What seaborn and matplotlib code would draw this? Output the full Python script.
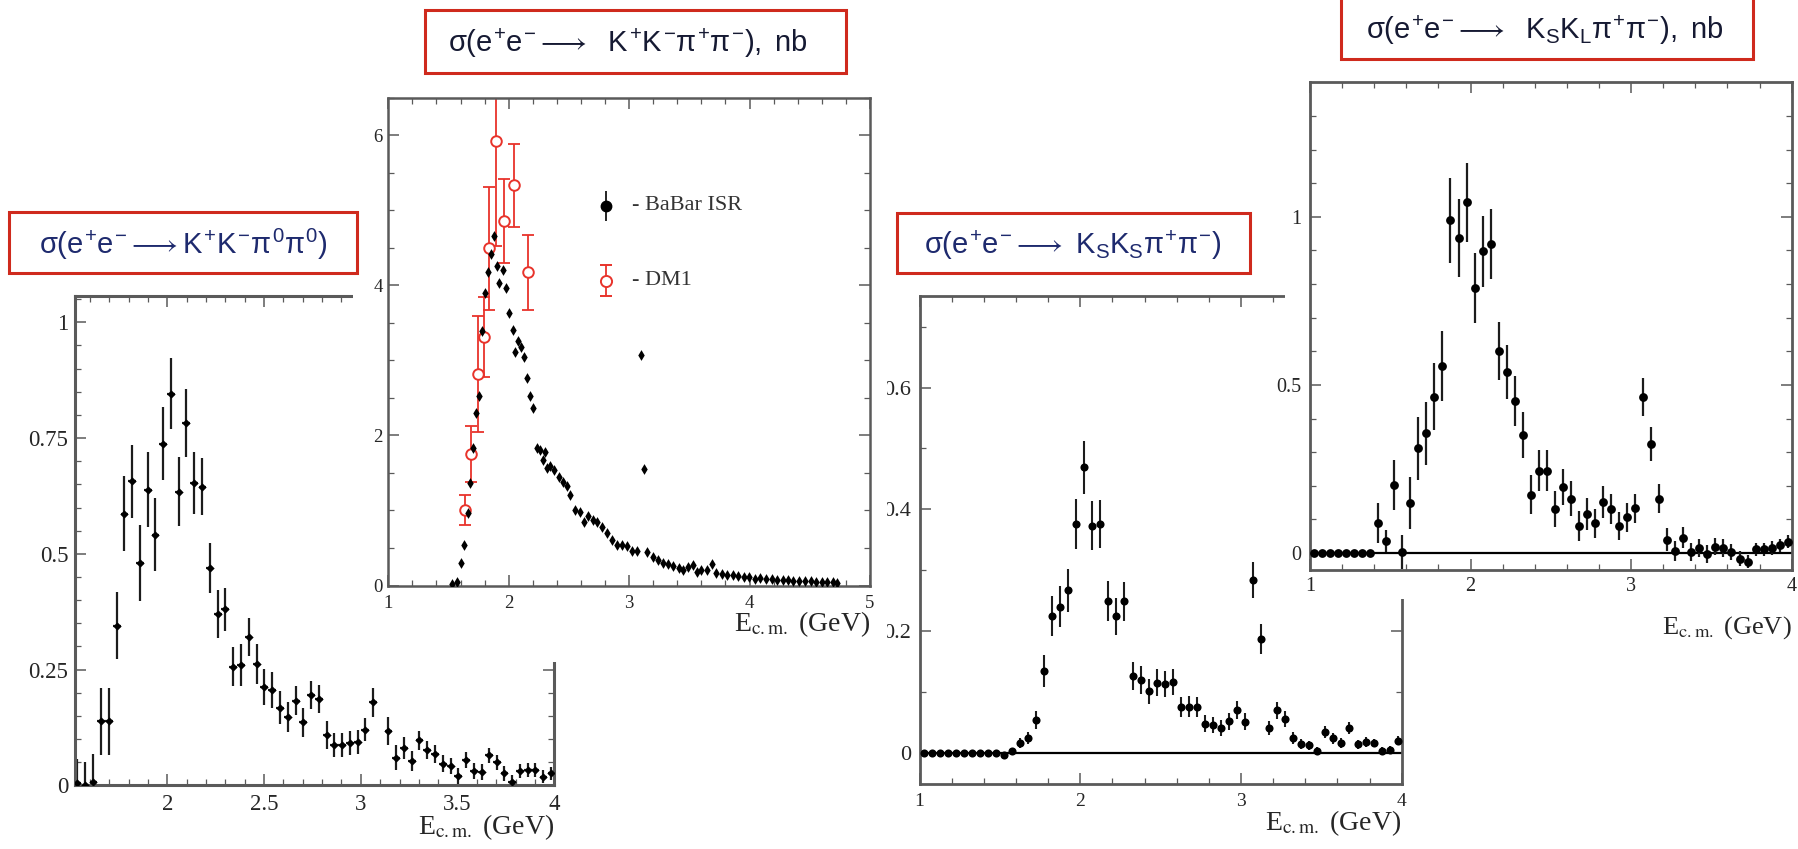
import matplotlib
matplotlib.use("Agg")
import matplotlib.pyplot as plt
import matplotlib.transforms as mtransforms
from matplotlib.patches import Rectangle
from matplotlib.ticker import FixedLocator
from matplotlib.font_manager import FontProperties
import seaborn as sns

# ---------------------------------------------------------------- data
# e+e- -> K+ K- pi0 pi0
a_e = [1.533, 1.576, 1.618, 1.657, 1.699, 1.738, 1.778, 1.819, 1.857, 1.898,
       1.938, 1.979, 2.019, 2.058, 2.098, 2.139, 2.181, 2.218, 2.260, 2.299,
       2.339, 2.380, 2.420, 2.461, 2.501, 2.542, 2.582, 2.621, 2.663, 2.702,
       2.742, 2.783, 2.823, 2.863, 2.904, 2.944, 2.983, 3.023, 3.062, 3.143,
       3.183, 3.222, 3.264, 3.303, 3.343, 3.383, 3.424, 3.464, 3.504, 3.544,
       3.584, 3.624, 3.663, 3.703, 3.742, 3.783, 3.823, 3.864, 3.902, 3.944,
       3.985]
a_sig = [0.006, 0.0, 0.008, 0.138, 0.138, 0.345, 0.587, 0.657, 0.481, 0.638,
         0.541, 0.738, 0.846, 0.634, 0.783, 0.653, 0.645, 0.470, 0.370, 0.380,
         0.256, 0.260, 0.321, 0.262, 0.212, 0.205, 0.168, 0.148, 0.183, 0.136,
         0.195, 0.187, 0.109, 0.087, 0.087, 0.091, 0.094, 0.120, 0.179, 0.118,
         0.060, 0.081, 0.052, 0.097, 0.076, 0.068, 0.047, 0.042, 0.020, 0.055,
         0.031, 0.028, 0.065, 0.050, 0.026, 0.008, 0.030, 0.033, 0.033, 0.018,
         0.026]
a_err = [0.050, 0.050, 0.060, 0.073, 0.073, 0.072, 0.082, 0.079, 0.082, 0.081,
         0.079, 0.079, 0.077, 0.075, 0.073, 0.067, 0.061, 0.054, 0.051, 0.047,
         0.042, 0.046, 0.041, 0.043, 0.039, 0.039, 0.035, 0.033, 0.031, 0.031,
         0.030, 0.030, 0.030, 0.026, 0.026, 0.026, 0.026, 0.025, 0.031, 0.030,
         0.026, 0.024, 0.022, 0.020, 0.020, 0.019, 0.019, 0.018, 0.018, 0.018,
         0.018, 0.017, 0.016, 0.016, 0.016, 0.015, 0.015, 0.015, 0.015, 0.014,
         0.014]

# e+e- -> K+ K- pi+ pi-  (BaBar ISR)
b_e = [1.527, 1.568, 1.600, 1.629, 1.660, 1.679, 1.706, 1.731, 1.753, 1.781,
       1.803, 1.831, 1.850, 1.878, 1.900, 1.922, 1.950, 1.977, 2.000, 2.033,
       2.052, 2.075, 2.100, 2.127, 2.155, 2.177, 2.205, 2.233, 2.260, 2.282,
       2.300, 2.315, 2.343, 2.376, 2.420, 2.453, 2.480, 2.510, 2.550, 2.590,
       2.625, 2.661, 2.703, 2.736, 2.772, 2.814, 2.855, 2.897, 2.940, 2.980,
       3.020, 3.063, 3.096, 3.124, 3.151, 3.200, 3.243, 3.284, 3.326, 3.367,
       3.410, 3.450, 3.490, 3.528, 3.560, 3.600, 3.645, 3.686, 3.720, 3.770,
       3.810, 3.860, 3.907, 3.954, 3.998, 4.046, 4.087, 4.137, 4.184, 4.230,
       4.276, 4.320, 4.364, 4.410, 4.460, 4.508, 4.552, 4.600, 4.646, 4.690,
       4.724]
b_sig = [0.02, 0.05, 0.30, 0.54, 0.97, 1.36, 1.83, 2.30, 2.52, 3.39,
         3.90, 4.17, 4.42, 4.65, 4.25, 4.03, 4.20, 3.96, 3.63, 3.41,
         3.11, 3.26, 3.18, 3.05, 2.76, 2.52, 2.36, 1.83, 1.80, 1.67,
         1.78, 1.56, 1.59, 1.54, 1.45, 1.38, 1.33, 1.21, 1.01, 0.98,
         0.84, 0.92, 0.87, 0.85, 0.78, 0.70, 0.61, 0.54, 0.54, 0.52,
         0.46, 0.46, 3.07, 1.55, 0.45, 0.38, 0.34, 0.30, 0.29, 0.26,
         0.23, 0.20, 0.24, 0.27, 0.18, 0.20, 0.21, 0.28, 0.17, 0.15,
         0.14, 0.14, 0.127, 0.118, 0.109, 0.087, 0.095, 0.082, 0.082, 0.073,
         0.073, 0.073, 0.064, 0.064, 0.056, 0.056, 0.050, 0.050, 0.047, 0.047,
         0.037]

# e+e- -> K+ K- pi+ pi-  (DM1)
dm_e = [1.637, 1.687, 1.742, 1.795, 1.834, 1.892, 1.963, 2.047, 2.163]
dm_sig = [1.00, 1.75, 2.82, 3.31, 4.49, 5.92, 4.86, 5.33, 4.17]
dm_err = [0.20, 0.375, 0.77, 0.53, 0.82, 1.40, 0.56, 0.55, 0.505]

# e+e- -> KS KS pi+ pi-
c_e = [1.025, 1.075, 1.125, 1.175, 1.225, 1.275, 1.325, 1.375, 1.425, 1.475,
       1.525, 1.575, 1.625, 1.675, 1.725, 1.775, 1.825, 1.875, 1.925, 1.975,
       2.025, 2.075, 2.125, 2.175, 2.225, 2.275, 2.325, 2.375, 2.425, 2.475,
       2.525, 2.575, 2.625, 2.675, 2.725, 2.775, 2.825, 2.875, 2.925, 2.975,
       3.025, 3.075, 3.125, 3.175, 3.225, 3.275, 3.325, 3.375, 3.425, 3.475,
       3.525, 3.575, 3.625, 3.675, 3.725, 3.775, 3.825, 3.875, 3.925, 3.975]
c_sig = [0, 0, 0, 0, 0, 0, 0, 0, 0, 0,
         -0.003, 0.003, 0.016, 0.024, 0.054, 0.134, 0.225, 0.240, 0.267, 0.376,
         0.469, 0.373, 0.376, 0.249, 0.224, 0.249, 0.126, 0.119, 0.101, 0.115,
         0.113, 0.116, 0.075, 0.076, 0.075, 0.048, 0.046, 0.041, 0.052, 0.070,
         0.051, 0.284, 0.187, 0.041, 0.070, 0.055, 0.024, 0.014, 0.012, 0.003,
         0.034, 0.024, 0.016, 0.041, 0.014, 0.018, 0.016, 0.003, 0.005, 0.020]
c_err = [0, 0, 0, 0, 0, 0, 0, 0, 0, 0,
         0.005, 0.005, 0.008, 0.010, 0.015, 0.026, 0.033, 0.034, 0.035, 0.041,
         0.044, 0.040, 0.040, 0.033, 0.030, 0.032, 0.023, 0.023, 0.021, 0.022,
         0.022, 0.021, 0.017, 0.017, 0.017, 0.014, 0.013, 0.013, 0.014, 0.015,
         0.014, 0.029, 0.024, 0.012, 0.014, 0.013, 0.010, 0.008, 0.008, 0.006,
         0.010, 0.009, 0.008, 0.010, 0.007, 0.008, 0.007, 0.006, 0.006, 0.008]

# e+e- -> KS KL pi+ pi-
d_e = [1.025, 1.075, 1.125, 1.175, 1.225, 1.275, 1.325, 1.375, 1.425, 1.475,
       1.525, 1.575, 1.625, 1.675, 1.725, 1.775, 1.825, 1.875, 1.925, 1.975,
       2.025, 2.075, 2.125, 2.175, 2.225, 2.275, 2.325, 2.375, 2.425, 2.475,
       2.525, 2.575, 2.625, 2.675, 2.725, 2.775, 2.825, 2.875, 2.925, 2.975,
       3.025, 3.075, 3.125, 3.175, 3.225, 3.275, 3.325, 3.375, 3.425, 3.475,
       3.525, 3.575, 3.625, 3.675, 3.725, 3.775, 3.825, 3.875, 3.925, 3.975]
d_sig = [0, 0, 0, 0, 0, 0, 0, 0, 0.089, 0.036,
         0.202, 0.003, 0.148, 0.311, 0.356, 0.465, 0.556, 0.989, 0.937, 1.043,
         0.789, 0.897, 0.920, 0.601, 0.539, 0.453, 0.350, 0.174, 0.245, 0.245,
         0.131, 0.197, 0.162, 0.080, 0.116, 0.088, 0.152, 0.131, 0.080, 0.106,
         0.133, 0.464, 0.325, 0.162, 0.040, 0.006, 0.046, 0.003, 0.015, -0.003,
         0.019, 0.015, 0.003, -0.017, -0.026, 0.011, 0.011, 0.015, 0.023, 0.034]
d_err = [0, 0, 0, 0, 0, 0, 0, 0, 0.060, 0.032,
         0.074, 0.050, 0.077, 0.093, 0.094, 0.100, 0.103, 0.125, 0.116, 0.118,
         0.104, 0.105, 0.104, 0.087, 0.081, 0.074, 0.068, 0.057, 0.060, 0.060,
         0.053, 0.054, 0.052, 0.044, 0.047, 0.043, 0.048, 0.046, 0.041, 0.043,
         0.043, 0.057, 0.050, 0.042, 0.034, 0.030, 0.031, 0.027, 0.027, 0.026,
         0.026, 0.026, 0.024, 0.022, 0.020, 0.020, 0.020, 0.020, 0.020, 0.020]

# axis ticks and their labels
a_xticks, a_xlabels = [2, 2.5, 3, 3.5, 4], ["2", "2.5", "3", "3.5", "4"]
a_yticks, a_ylabels = [0, 0.25, 0.5, 0.75, 1], ["0", "0.25", "0.5", "0.75", "1"]
b_xticks, b_xlabels = [1, 2, 3, 4, 5], ["1", "2", "3", "4", "5"]
b_yticks, b_ylabels = [0, 2, 4, 6], ["0", "2", "4", "6"]
c_xticks, c_xlabels = [1, 2, 3, 4], ["1", "2", "3", "4"]
c_yticks, c_ylabels = [0, 0.2, 0.4, 0.6], ["0", "0.2", "0.4", "0.6"]
d_xticks, d_xlabels = [1, 2, 3, 4], ["1", "2", "3", "4"]
d_yticks, d_ylabels = [0, 0.5, 1], ["0", "0.5", "1"]

titles = [
    r"$\sigma(e^{+}e^{-}\longrightarrow K^{+}K^{-}\pi^{0}\pi^{0})$",
    r"$\sigma(e^{+}e^{-}\longrightarrow\ \ K^{+}K^{-}\pi^{+}\pi^{-}),\ nb$",
    r"$\sigma(e^{+}e^{-}\longrightarrow\ K_{S}K_{S}\pi^{+}\pi^{-})$",
    r"$\sigma(e^{+}e^{-}\longrightarrow\ \ K_{S}K_{L}\pi^{+}\pi^{-}),\ nb$",
]
legend_labels = ["- BaBar ISR", "- DM1"]
xlabel = r"E$_{\mathrm{c.m.}}$ (GeV)"

# ---------------------------------------------------------------- style
sns.set_theme(style="ticks")
plt.rcParams["font.family"] = ["Liberation Serif", "DejaVu Serif"]
plt.rcParams["mathtext.fontset"] = "custom"
plt.rcParams["mathtext.rm"] = "Liberation Sans"
plt.rcParams["mathtext.it"] = "Liberation Sans"
plt.rcParams["mathtext.sf"] = "Liberation Sans"
plt.rcParams["mathtext.bf"] = "Liberation Sans:bold"

W, H, DPI = 1798, 849, 100
fig = plt.figure(figsize=(W / DPI, H / DPI), dpi=DPI)
fig.patch.set_facecolor("white")

SPINE = "#5a5a5a"
LABEL = "#262626"
RED = "#e8332b"
BOX = "#cf2a1d"


def px_rect(left, top, right, bottom):
    return [left / W, 1 - bottom / H, (right - left) / W, (bottom - top) / H]


def add_axes(left, top, right, bottom, z):
    ax = fig.add_axes(px_rect(left, top, right, bottom), zorder=z)
    ax.set_facecolor("white")
    return ax


def white_patch(left, top, right, bottom, z):
    fig.add_artist(Rectangle((left / W, 1 - bottom / H), (right - left) / W,
                             (bottom - top) / H, transform=fig.transFigure,
                             facecolor="white", edgecolor="none", zorder=z))


def style(ax, xlim, ylim, xt, xl, yt, yl, xminor, yminor, fs, spine_w,
          xpad, ypad, xlab_fs, xlab_drop):
    ax.set_xlim(*xlim)
    ax.set_ylim(*ylim)
    ax.set_xticks(xt, xl)
    ax.set_yticks(yt, yl)
    ax.xaxis.set_minor_locator(FixedLocator(xminor))
    ax.yaxis.set_minor_locator(FixedLocator(yminor))
    for s in ax.spines.values():
        s.set_color(SPINE)
        s.set_linewidth(spine_w)
    ax.tick_params(which="both", direction="in", top=True, right=True,
                   color=SPINE, labelcolor=LABEL, labelsize=fs)
    ax.tick_params(which="major", length=8, width=1.1)
    ax.tick_params(which="minor", length=4.2, width=0.9)
    ax.tick_params(axis="x", pad=xpad)
    ax.tick_params(axis="y", pad=ypad)
    ax.grid(False)
    tr = mtransforms.offset_copy(ax.transAxes, fig=fig, x=0,
                                 y=-xlab_drop * 72 / DPI, units="points")
    ax.text(1.0, 0.0, xlabel, transform=tr, ha="right", va="baseline",
            color=LABEL, fontproperties=FontProperties(
                family="Liberation Serif", size=xlab_fs,
                math_fontfamily="stix"))


def frange(a, b, step):
    out, v = [], a
    while v <= b + 1e-9:
        out.append(round(v, 4))
        v += step
    return out


# ---------------------------------------------------------------- panel: K+K-pi0pi0
axA = add_axes(74.5, 296.4, 554.3, 785.3, 1)
style(axA, (1.52, 4.0), (0, 1.056), a_xticks, a_xlabels, a_yticks, a_ylabels,
      frange(1.6, 4.0, 0.1), frange(0, 1.05, 0.05), 16.5, 2.2, 6.0, 4.5, 20, 49)
axA.errorbar(a_e, a_sig, yerr=a_err, xerr=0.02, fmt="none", ecolor="#1c1c1c",
             elinewidth=1.6, capsize=0, zorder=2)
sns.scatterplot(x=a_e, y=a_sig, ax=axA, color="black", s=18, marker="D",
                linewidth=0, zorder=3)

# white backing of the panels that sit in front
white_patch(352.6, 0, 887, 661.7, 2)
white_patch(1284.6, 0, 1798, 599.3, 2)

# ---------------------------------------------------------------- panel: K+K-pi+pi-
axB = add_axes(388.3, 97.6, 870, 585.5, 3)
style(axB, (1, 5), (0, 6.5), b_xticks, b_xlabels, b_yticks, b_ylabels,
      frange(1, 5, 0.2), frange(0, 6.5, 0.5), 13.5, 1.8, 7.0, 4.0, 20, 46)
axB.errorbar(dm_e, dm_sig, yerr=dm_err, fmt="none", ecolor=RED, elinewidth=1.3,
             capsize=4.5, capthick=1.3, zorder=2)
sns.scatterplot(x=dm_e, y=dm_sig, ax=axB, marker="o", s=58, facecolor="white",
                edgecolor=RED, linewidth=1.4, zorder=3)
sns.scatterplot(x=b_e, y=b_sig, ax=axB, color="black", s=30, marker="d",
                linewidth=0, zorder=4)
# legend
leg_x, leg_tx = 0.4525, 0.505
axB.errorbar([leg_x], [0.778], yerr=[0.031], fmt="o", color="black",
             markersize=7.5, elinewidth=1.2, transform=axB.transAxes, zorder=4)
axB.errorbar([leg_x], [0.625], yerr=[0.032], fmt="o", color=RED,
             markerfacecolor="white", markeredgecolor=RED, markersize=8,
             markeredgewidth=1.4, elinewidth=1.3, capsize=4.5, capthick=1.3,
             transform=axB.transAxes, zorder=4)
axB.text(leg_tx, 0.778, legend_labels[0], transform=axB.transAxes,
         va="center", ha="left", fontsize=16, color="#333333")
axB.text(leg_tx, 0.625, legend_labels[1], transform=axB.transAxes,
         va="center", ha="left", fontsize=16, color="#333333")

# ---------------------------------------------------------------- panel: KsKs pi+pi-
axC = add_axes(919.6, 296.3, 1401.7, 783.6, 1)
style(axC, (1, 4), (-0.0506, 0.75), c_xticks, c_xlabels, c_yticks, c_ylabels,
      frange(1, 4, 0.2), frange(0, 0.7, 0.1), 14, 2.0, 7.0, 3.0, 20, 47)
axC.tick_params(axis="y", labelsize=16, pad=6)
axC.axhline(0, color="black", lw=1.6, zorder=1)
axC.errorbar(c_e, c_sig, yerr=c_err, fmt="none", ecolor="#1c1c1c",
             elinewidth=1.5, capsize=0, zorder=2)
sns.scatterplot(x=c_e, y=c_sig, ax=axC, color="black", s=34, marker="o",
                linewidth=0, zorder=3)

# ---------------------------------------------------------------- panel: KsKL pi+pi-
axD = add_axes(1310, 82.3, 1791.7, 569.5, 3)
style(axD, (1, 4), (-0.049, 1.40), d_xticks, d_xlabels, d_yticks, d_ylabels,
      frange(1, 4, 0.2), frange(0, 1.3, 0.1), 14.5, 2.0, 5.5, 6.0, 19, 64)
axD.axhline(0, color="black", lw=1.6, zorder=1)
axD.errorbar(d_e, d_sig, yerr=d_err, fmt="none", ecolor="#1c1c1c",
             elinewidth=1.6, capsize=0, zorder=2)
sns.scatterplot(x=d_e, y=d_sig, ax=axD, color="black", s=40, marker="o",
                linewidth=0, zorder=3)

# ---------------------------------------------------------------- title boxes
boxes = [(9, 212, 357, 273), (425, 9.6, 846, 72.7),
         (897, 213, 1250, 273), (1340.7, -3, 1752.7, 59.3)]
text_pos = [(183.5, 244), (628, 43.5), (1072.5, 245), (1545, 30)]
text_size = [21, 21, 21, 21]
text_col = ["#1e2a6e", "#161a33", "#1e2a6e", "#161a33"]
for (l, t, r, b), (tx, ty), fs, tc, ttl in zip(boxes, text_pos, text_size,
                                                text_col, titles):
    fig.add_artist(Rectangle((l / W, 1 - b / H), (r - l) / W, (b - t) / H,
                             transform=fig.transFigure, facecolor="white",
                             edgecolor=BOX, linewidth=2.2, zorder=5))
    fig.text(tx / W, 1 - ty / H, ttl, ha="center", va="center", fontsize=fs,
             color=tc, zorder=6)

fig.savefig("out.png", dpi=DPI, facecolor="white")
